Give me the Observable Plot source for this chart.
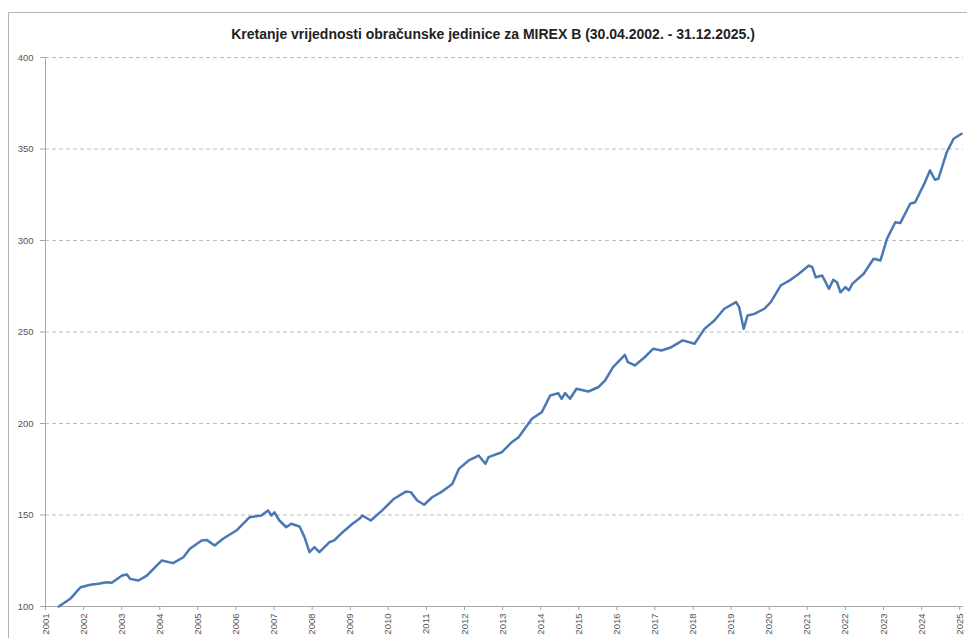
<!DOCTYPE html>
<html>
<head>
<meta charset="utf-8">
<script src="https://cdn.jsdelivr.net/npm/d3@7"></script>
<script src="https://cdn.jsdelivr.net/npm/@observablehq/plot@0.6"></script>
<style>
  html, body { margin: 0; padding: 0; background: #fff; }
  #chart { width: 967px; height: 638px; overflow: hidden; }
</style>
</head>
<body>
<div id="chart"></div>
<script>
const titleText = "Kretanje vrijednosti obračunske jedinice za MIREX B (30.04.2002. - 31.12.2025.)";

// positions along the axis (decimal year as displayed on the chart's axis)
const years = [
  2001.35, 2001.65, 2001.92, 2002.18, 2002.39, 2002.61, 2002.74, 2003.01, 2003.14, 2003.22,
  2003.44, 2003.66, 2003.88, 2004.05, 2004.35, 2004.62, 2004.79, 2005.10, 2005.23, 2005.44,
  2005.66, 2006.01, 2006.36, 2006.67, 2006.84, 2006.93, 2007.01, 2007.14, 2007.32, 2007.45,
  2007.67, 2007.80, 2007.93, 2008.06, 2008.19, 2008.45, 2008.58, 2008.80, 2009.06, 2009.24,
  2009.32, 2009.54, 2009.84, 2010.15, 2010.46, 2010.59, 2010.76, 2010.94, 2011.15, 2011.41,
  2011.68, 2011.85, 2012.11, 2012.37, 2012.55, 2012.63, 2012.98, 2013.24, 2013.42, 2013.77,
  2014.03, 2014.25, 2014.46, 2014.55, 2014.64, 2014.77, 2014.94, 2015.25, 2015.51, 2015.69,
  2015.90, 2016.21, 2016.29, 2016.47, 2016.73, 2016.95, 2017.17, 2017.43, 2017.73, 2018.04,
  2018.30, 2018.56, 2018.82, 2019.13, 2019.21, 2019.33, 2019.43, 2019.61, 2019.87, 2020.04,
  2020.30, 2020.56, 2020.78, 2021.04, 2021.13, 2021.22, 2021.39, 2021.57, 2021.68, 2021.78,
  2021.87, 2022.00, 2022.09, 2022.18, 2022.48, 2022.74, 2022.92, 2023.09, 2023.31, 2023.44,
  2023.70, 2023.83, 2024.05, 2024.22, 2024.35, 2024.44, 2024.66, 2024.84, 2025.05
];

const values = [
  100.0, 104.2, 110.5, 111.9, 112.4, 113.3, 113.0, 116.9, 117.5, 115.1,
  114.2, 116.9, 121.5, 125.1, 123.7, 126.9, 131.5, 136.1, 136.4, 133.3,
  137.0, 141.5, 148.8, 149.7, 152.5, 149.7, 151.5, 147.0, 143.3, 145.2,
  143.7, 137.9, 129.7, 132.4, 129.7, 135.1, 136.1, 140.6, 145.2, 147.9,
  149.7, 147.0, 152.5, 158.9, 162.8, 162.5, 157.9, 155.6, 159.7, 162.8,
  167.0, 175.2, 179.8, 182.5, 178.0, 181.6, 184.3, 189.8, 192.5, 202.6,
  206.2, 215.3, 216.6, 213.5, 216.6, 213.5, 219.0, 217.5, 219.8, 223.5,
  230.8, 237.5, 233.5, 231.7, 236.2, 240.8, 239.9, 241.7, 245.4, 243.6,
  251.7, 256.3, 262.7, 266.3, 263.6, 251.7, 259.0, 259.9, 262.7, 266.3,
  275.4, 278.5, 281.8, 286.3, 285.4, 279.9, 280.9, 273.6, 278.5, 277.2,
  271.7, 274.5, 272.7, 276.3, 281.8, 290.0, 289.1, 300.9, 310.0, 309.5,
  320.1, 320.9, 330.1, 338.3, 333.2, 333.7, 348.3, 355.6, 358.3
];

const yTicks = [100, 150, 200, 250, 300, 350, 400];
const xTicks = [2001, 2002, 2003, 2004, 2005, 2006, 2007, 2008, 2009, 2010, 2011, 2012, 2013,
                2014, 2015, 2016, 2017, 2018, 2019, 2020, 2021, 2022, 2023, 2024, 2025];

const data = years.map((x, i) => ({year: x, value: values[i]}));

const chart = Plot.plot({
  width: 967,
  height: 638,
  marginLeft: 45,
  marginRight: 4,
  marginTop: 57,
  marginBottom: 32,
  x: {domain: [2001, 2025.1]},
  y: {domain: [100, 400]},
  style: {fontFamily: "'Liberation Sans', Arial, sans-serif", fontSize: "9.5px", color: "#555", background: "#fff"},
  marks: [
    Plot.gridY(yTicks, {stroke: "#bdbdbd", strokeOpacity: 1, strokeDasharray: "4,3"}),
    Plot.ruleX([2001], {stroke: "#a6a6a6"}),
    Plot.ruleY([100], {stroke: "#a6a6a6"}),
    Plot.axisY(yTicks, {tickSize: 5, tickPadding: 7, stroke: "#a6a6a6", fill: "#555", label: null}),
    Plot.axisX(xTicks, {tickFormat: d => String(d), tickRotate: -90, tickSize: 4, tickPadding: 3, stroke: "#a6a6a6", fill: "#555", label: null}),
    Plot.line(data, {x: "year", y: "value", stroke: "#4a78b4", strokeWidth: 2.5, curve: "linear"}),
    Plot.text([titleText], {frameAnchor: "top-left", dx: 447.5, dy: -28, text: d => d, fontSize: 14, fontWeight: "bold", fill: "#222", textAnchor: "middle"})
  ]
});

// outer chart-area border (as in the spreadsheet chart)
d3.select(chart).insert("rect", ":first-child")
  .attr("x", 8.5).attr("y", 12.5).attr("width", 1000).attr("height", 700)
  .attr("fill", "#fff").attr("stroke", "#b5b5b5");

document.getElementById("chart").appendChild(chart);
</script>
</body>
</html>
